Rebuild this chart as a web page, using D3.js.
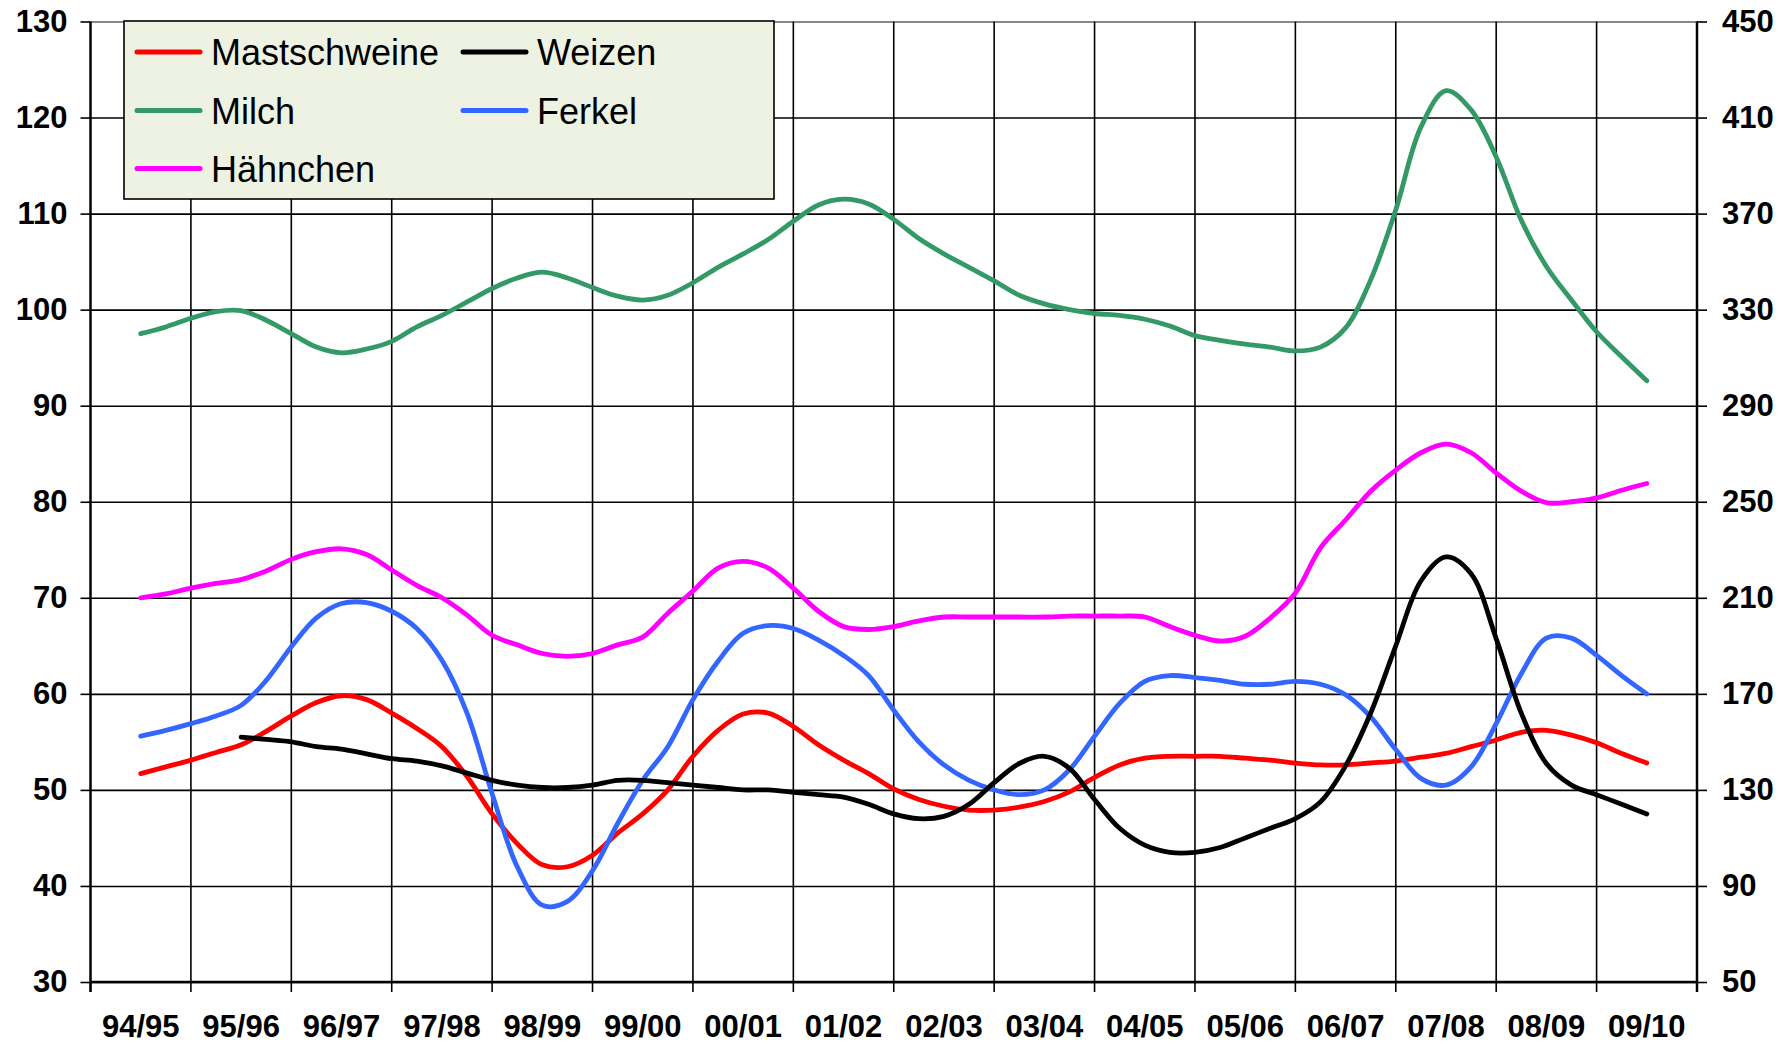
<!DOCTYPE html>
<html>
<head>
<meta charset="utf-8">
<script src="https://cdn.jsdelivr.net/npm/d3@7"></script>
<style>
  body { margin: 0; background: #fff; }
  svg { display: block; }
</style>
</head>
<body>
<svg width="1778" height="1044"></svg>
<script>
// Wirtschaftsjahre (x-Achse)
const seasons = ['94/95', '95/96', '96/97', '97/98', '98/99', '99/00', '00/01', '01/02',
  '02/03', '03/04', '04/05', '05/06', '06/07', '07/08', '08/09', '09/10'];

const leftTicks = [30, 40, 50, 60, 70, 80, 90, 100, 110, 120, 130];
const rightTicks = [50, 90, 130, 170, 210, 250, 290, 330, 370, 410, 450];

// quarterly values, first value sits at the centre of 94/95 (left axis)
const mastschweine = [
  51.7, 52.4, 53.1, 53.9, 54.7, 56.1, 57.7, 59.1, 59.8, 59.4, 58.0, 56.4,
  54.5, 51.4, 47.5, 44.4, 42.2, 42.0, 43.2, 45.5, 47.5, 50.0, 53.5, 56.2,
  57.9, 58.0, 56.6, 54.7, 53.1, 51.7, 50.1, 49.0, 48.3, 47.9, 47.9, 48.2,
  48.8, 49.8, 51.3, 52.6, 53.3, 53.5, 53.5, 53.5, 53.3, 53.1, 52.8, 52.6,
  52.6, 52.8, 53.0, 53.4, 53.8, 54.5, 55.2, 56.0, 56.2, 55.7, 54.9, 53.8,
  52.8];
const milch = [
  97.5, 98.2, 99.1, 99.8, 99.9, 98.9, 97.5, 96.1, 95.5, 95.9, 96.7, 98.2,
  99.4, 100.8, 102.2, 103.3, 103.9, 103.3, 102.3, 101.4, 101.0, 101.5, 102.8, 104.4,
  105.8, 107.3, 109.2, 110.9, 111.5, 111.0, 109.4, 107.4, 105.8, 104.4, 103.0, 101.5,
  100.6, 100.0, 99.6, 99.4, 99.0, 98.3, 97.3, 96.8, 96.4, 96.1, 95.7, 96.1,
  98.1, 103.1, 110.4, 119.0, 122.8, 120.8, 115.9, 109.3, 104.5, 101.0, 97.7, 95.1,
  92.6];
const ferkel = [
  55.6, 56.2, 56.9, 57.7, 58.8, 61.4, 64.9, 67.9, 69.4, 69.5, 68.6, 66.8,
  63.5, 58.0, 49.6, 42.0, 38.0, 38.4, 41.6, 46.5, 51.0, 54.5, 59.4, 63.4,
  66.3, 67.1, 66.8, 65.6, 64.0, 61.9, 58.3, 55.0, 52.6, 51.0, 50.0, 49.5,
  50.0, 52.1, 55.6, 59.0, 61.3, 61.9, 61.7, 61.4, 61.0, 61.0, 61.3, 61.0,
  59.9, 57.6, 54.2, 51.2, 50.5, 52.4, 56.9, 62.1, 65.8, 65.8, 64.0, 61.9,
  60.0];
const haehnchen = [
  70.0, 70.4, 71.0, 71.5, 71.9, 72.8, 74.0, 74.8, 75.1, 74.5, 72.9, 71.3,
  70.0, 68.2, 66.1, 65.1, 64.2, 63.9, 64.2, 65.1, 65.9, 68.4, 70.7, 73.1,
  73.8, 73.1, 71.0, 68.6, 67.0, 66.7, 67.0, 67.6, 68.0, 68.0, 68.0, 68.0,
  68.0, 68.1, 68.1, 68.1, 68.0, 67.0, 66.1, 65.5, 66.0, 67.9, 70.5, 75.2,
  78.1, 81.1, 83.3, 85.1, 86.0, 85.1, 83.0, 81.1, 79.9, 80.0, 80.4, 81.2,
  81.9];
// Weizen on the right axis, starts at 95/96
const weizen = [
  152, 151, 150, 148, 147, 145, 143, 142, 140, 137, 134, 132,
  131, 131, 132, 134, 134, 133, 132, 131, 130, 130, 129, 128,
  127, 124, 120, 118, 119, 124, 133, 141, 144, 139, 126, 114,
  107, 104, 104, 106, 110, 114, 118, 125, 140, 162, 190, 217,
  227, 220, 193, 162, 141, 132, 128, 124, 120];

const svg = d3.select('svg');
const width = +svg.attr('width');
const height = +svg.attr('height');

const plotLeft = 90.5, plotRight = 1697, plotTop = 21.5, plotBottom = 982;
const font = "'Liberation Sans', Arial, sans-serif";

svg.append('rect').attr('width', width).attr('height', height).attr('fill', '#fff');

const xBand = d3.scaleBand().domain(seasons).range([plotLeft, plotRight]);
const xPos = d3.scaleLinear().domain([0, seasons.length]).range([plotLeft, plotRight]);
const yLeft = d3.scaleLinear().domain([30, 130]).range([plotBottom, plotTop]);
const yRight = d3.scaleLinear().domain([50, 450]).range([plotBottom, plotTop]);

const boundaries = seasons.map(d => xBand(d)).concat([plotRight]);

// horizontal grid
svg.append('g')
  .attr('transform', `translate(${plotLeft},0)`)
  .call(d3.axisLeft(yLeft).tickValues(leftTicks).tickSize(-(plotRight - plotLeft)).tickFormat(''))
  .call(g => g.select('.domain').remove())
  .call(g => g.selectAll('line')
    .attr('stroke', d => d === 130 ? '#888' : '#000')
    .attr('stroke-width', d => d === 130 ? 2 : 1.6));

// vertical grid
svg.append('g').selectAll('line')
  .data(boundaries.slice(1, -1))
  .join('line')
  .attr('x1', d => d).attr('x2', d => d)
  .attr('y1', plotTop).attr('y2', plotBottom)
  .attr('stroke', '#000').attr('stroke-width', 1.6);

// category ticks below the axis
svg.append('g').selectAll('line')
  .data(boundaries)
  .join('line')
  .attr('x1', d => d).attr('x2', d => d)
  .attr('y1', plotBottom).attr('y2', plotBottom + 10)
  .attr('stroke', '#000').attr('stroke-width', 1.6);

// axis lines
svg.append('line').attr('x1', plotLeft).attr('x2', plotRight).attr('y1', plotBottom).attr('y2', plotBottom)
  .attr('stroke', '#000').attr('stroke-width', 2.5);
svg.append('line').attr('x1', plotLeft).attr('x2', plotLeft).attr('y1', plotTop).attr('y2', plotBottom + 10)
  .attr('stroke', '#000').attr('stroke-width', 2.5);
svg.append('line').attr('x1', plotRight).attr('x2', plotRight).attr('y1', plotTop).attr('y2', plotBottom + 10)
  .attr('stroke', '#000').attr('stroke-width', 2.5);

function styleAxis(g) {
  g.select('.domain').remove();
  g.selectAll('line').attr('stroke', '#000').attr('stroke-width', 1.6);
  g.selectAll('text')
    .attr('font-family', font)
    .attr('font-weight', 'bold')
    .attr('font-size', 31)
    .attr('fill', '#000');
}

svg.append('g')
  .attr('transform', `translate(${plotLeft},0)`)
  .call(d3.axisLeft(yLeft).tickValues(leftTicks).tickSize(10).tickPadding(13))
  .call(styleAxis);

svg.append('g')
  .attr('transform', `translate(${plotRight},0)`)
  .call(d3.axisRight(yRight).tickValues(rightTicks).tickSize(10).tickPadding(15))
  .call(styleAxis);

svg.append('g')
  .attr('transform', `translate(0,${plotBottom})`)
  .call(d3.axisBottom(xBand).tickSize(0).tickPadding(33))
  .call(styleAxis);

// lines
const series = [
  { name: 'Mastschweine', values: mastschweine, start: 0, y: yLeft, color: '#ff0000' },
  { name: 'Weizen', values: weizen, start: 1, y: yRight, color: '#000000' },
  { name: 'Milch', values: milch, start: 0, y: yLeft, color: '#339966' },
  { name: 'Ferkel', values: ferkel, start: 0, y: yLeft, color: '#3366ff' },
  { name: 'Hähnchen', values: haehnchen, start: 0, y: yLeft, color: '#ff00ff' }
];

const drawOrder = [0, 2, 3, 4, 1];
drawOrder.forEach(k => {
  const s = series[k];
  const line = d3.line()
    .x((d, i) => xPos(s.start + i / 4 + 0.5))
    .y(d => s.y(d))
    .curve(d3.curveCatmullRom.alpha(0.5));
  svg.append('path')
    .attr('d', line(s.values))
    .attr('fill', 'none')
    .attr('stroke', s.color)
    .attr('stroke-width', 4.8)
    .attr('stroke-linecap', 'round')
    .attr('stroke-linejoin', 'round');
});

// legend
const legend = svg.append('g');
legend.append('rect')
  .attr('x', 124).attr('y', 21)
  .attr('width', 650).attr('height', 178)
  .attr('fill', '#eef2e3')
  .attr('stroke', '#000').attr('stroke-width', 1.6);

const colX = [137, 463];
const rowY = [52, 110.5, 168.5];
series.forEach((s, k) => {
  const cx = colX[k % 2];
  const cy = rowY[Math.floor(k / 2)];
  legend.append('line')
    .attr('x1', cx).attr('x2', cx + 63)
    .attr('y1', cy).attr('y2', cy)
    .attr('stroke', s.color).attr('stroke-width', 5)
    .attr('stroke-linecap', 'round');
  legend.append('text')
    .attr('x', cx + 74).attr('y', cy + 13)
    .attr('font-family', font)
    .attr('font-size', 36)
    .attr('fill', '#000')
    .text(s.name);
});
</script>
</body>
</html>
